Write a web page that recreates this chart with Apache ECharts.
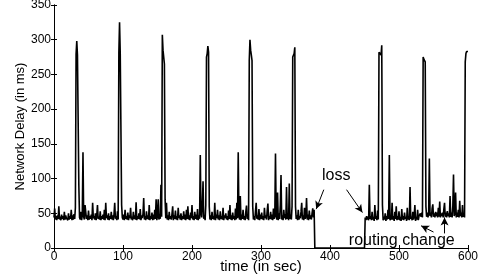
<!DOCTYPE html>
<html>
<head>
<meta charset="utf-8">
<script src="https://cdn.jsdelivr.net/npm/echarts@6/dist/echarts.min.js"></script>
<style>
  html, body { margin: 0; padding: 0; background: #fff; }
  #chart { width: 483px; height: 276px; }
</style>
</head>
<body>
<div id="chart"></div>
<script>
// delay samples, one per second, t = 0 .. 600 (0 = lost packets)
var delay = [
  44,57,41,46,40,47,42,60,41,45,40,48,42,46,40,52,41,47,43,45,
  40,50,41,46,42,55,40,47,41,49,42,58,279,298,278,277,90,44,41,52,
  40,47,138,45,41,62,63,42,47,40,54,41,46,42,48,40,65,43,46,41,
  50,40,47,62,42,45,41,53,40,46,42,48,41,55,40,65,43,47,41,50,
  40,46,42,52,41,47,40,49,65,42,46,40,53,41,281,325,280,278,62,44,
  41,48,40,55,42,46,41,51,40,47,43,58,41,45,40,52,42,47,41,66,
  40,46,42,50,41,56,40,47,43,49,72,41,46,40,53,42,47,41,62,40,
  46,42,51,40,48,41,55,42,70,40,47,70,41,49,42,91,45,307,285,286,
  265,70,43,65,41,47,40,52,42,46,41,49,60,40,47,42,54,41,46,40,
  58,43,47,41,50,40,46,42,53,41,48,40,55,42,60,41,47,40,51,43,
  62,41,46,40,52,42,48,41,56,40,47,42,134,50,44,62,96,42,47,40,
  62,275,280,291,282,60,41,47,40,52,42,46,41,65,40,48,43,55,41,47,
  40,53,42,46,41,58,40,47,43,50,41,46,40,54,42,62,41,47,40,51,
  42,46,40,57,41,65,43,138,47,41,75,40,48,42,55,41,46,40,52,61,
  42,47,40,270,300,285,278,270,60,41,46,40,53,65,42,47,41,56,40,48,
  42,51,41,46,40,58,43,47,41,54,64,40,46,42,52,41,48,40,57,42,
  47,136,45,41,80,40,50,42,62,105,41,47,40,55,43,49,41,88,42,46,
  40,93,42,48,41,60,275,276,280,289,60,42,47,40,55,41,46,43,52,65,
  41,47,40,58,42,46,72,41,48,40,54,42,47,41,50,57,44,55,0,0,
  0,0,0,0,0,0,0,0,0,0,0,0,0,0,0,0,0,0,0,0,
  0,0,0,0,0,0,0,0,0,0,0,0,0,0,0,0,0,0,0,0,
  0,0,0,0,0,0,0,0,0,0,0,0,0,0,0,0,0,0,0,0,
  0,0,0,0,0,0,0,0,0,0,0,44,40,46,41,45,40,91,42,46,
  40,52,41,45,39,62,42,46,40,54,41,282,280,283,278,292,62,40,45,41,
  50,39,46,41,55,42,134,40,45,41,65,41,46,39,52,42,60,40,46,41,
  53,40,45,39,56,41,46,40,51,42,45,39,58,41,46,40,88,42,45,40,
  52,41,46,62,39,45,41,55,40,46,44,50,45,51,44,275,272,270,268,60,
  45,51,44,50,129,46,51,44,57,63,45,50,44,52,46,51,44,58,45,67,
  44,50,46,51,44,56,65,45,51,44,53,46,50,44,75,45,51,44,60,106,
  46,50,80,44,51,45,55,44,68,46,51,44,62,45,50,44,268,280,283,282,
  283
];

// annotation anchors (data coords)
var notes = [
  { text: 'loss', at: [409, 105] },
  { text: 'routing change', at: [504, 11] }
];
var arrows = [
  [[391, 84], [380, 56]],
  [[424, 84], [447, 51]],
  [[550, 23], [532, 32]],
  [[566, 21], [566, 44]]
];

var points = delay.map(function (v, i) { return [i, v]; });

var chart = echarts.init(document.getElementById('chart'));
var font = 'Liberation Sans, Arial, Helvetica, sans-serif';

var option = {
  animation: false,
  backgroundColor: '#fff',
  grid: { left: 54, right: 15, top: 5, bottom: 28, containLabel: false, outerBoundsMode: 'none' },
  xAxis: [{
    type: 'value', min: 0, max: 600, interval: 100,
    name: 'time (in sec)', nameLocation: 'middle', nameGap: 11, nameMoveOverlap: false,
    nameTextStyle: { fontFamily: font, fontSize: 15, color: '#000', verticalAlign: 'top' },
    axisLine: { lineStyle: { color: '#000', width: 1 } },
    axisTick: { inside: true, length: 3, lineStyle: { color: '#000' } },
    axisLabel: { fontFamily: font, fontSize: 12, color: '#000', margin: 3 },
    splitLine: { show: false }
  }, {
    type: 'value', min: 0, max: 600, interval: 100, position: 'top',
    axisLine: { show: true, lineStyle: { color: '#000', width: 1 } },
    axisTick: { inside: true, length: 3, lineStyle: { color: '#000' } },
    axisLabel: { show: false },
    splitLine: { show: false }
  }],
  yAxis: [{
    type: 'value', min: 0, max: 350, interval: 50,
    name: 'Network Delay (in ms)', nameLocation: 'middle', nameGap: 34, nameMoveOverlap: false,
    nameTextStyle: { fontFamily: font, fontSize: 13, color: '#000', verticalAlign: 'middle' },
    axisLine: { show: true, lineStyle: { color: '#000', width: 1 } },
    axisTick: { show: true, inside: true, length: 3, lineStyle: { color: '#000' } },
    axisLabel: { fontFamily: font, fontSize: 12, color: '#000', margin: 3 },
    splitLine: { show: false }
  }, {
    type: 'value', min: 0, max: 350, interval: 50, position: 'right',
    axisLine: { show: true, lineStyle: { color: '#000', width: 1 } },
    axisTick: { show: true, inside: true, length: 3, lineStyle: { color: '#000' } },
    axisLabel: { show: false },
    splitLine: { show: false }
  }],
  series: [{
    type: 'line',
    data: points,
    showSymbol: false,
    sampling: null,
    lineStyle: { color: '#000', width: 1.6 },
    markLine: {
      silent: true,
      symbol: ['none', 'arrow'],
      symbolSize: [6, 8],
      label: { show: false },
      lineStyle: { color: '#000', width: 1, type: 'solid' },
      data: arrows.map(function (a) {
        return [{ coord: a[0] }, { coord: a[1] }];
      })
    }
  }]
};
chart.setOption(option);

chart.setOption({
  graphic: notes.map(function (n) {
    var p = chart.convertToPixel({ xAxisIndex: 0, yAxisIndex: 0 }, n.at);
    return {
      type: 'text', x: p[0], y: p[1], silent: true,
      style: {
        text: n.text, fill: '#000', font: '16px ' + font,
        align: 'center', verticalAlign: 'middle'
      }
    };
  })
});
</script>
</body>
</html>
